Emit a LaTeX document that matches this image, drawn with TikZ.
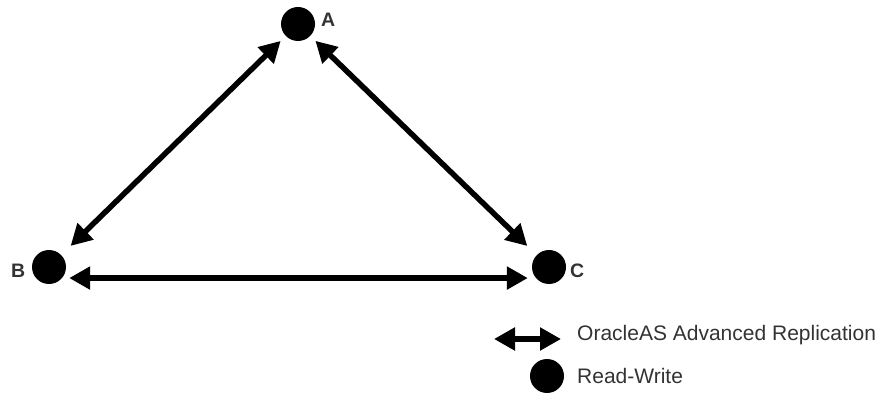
\documentclass[tikz,border=0pt]{standalone}
\usepackage{fontspec}
\setmainfont{Liberation Sans}
\usetikzlibrary{arrows.meta,positioning}
\definecolor{rwtext}{HTML}{333333}

\begin{document}
\begin{tikzpicture}[
  x=1pt, y=-1pt,
  site/.style={circle, fill=black, inner sep=0pt, minimum size=34pt},
  tag/.style={anchor=base west, inner sep=0pt, font=\fontsize{19.5}{22}\selectfont\bfseries, text=rwtext},
  legtext/.style={anchor=base west, inner sep=0pt, font=\fontsize{21}{24}\selectfont, text=rwtext},
  repl/.style={{Triangle[length=21pt,width=22pt]}-{Triangle[length=21pt,width=22pt]}, line width=5.5pt, black},
]
\useasboundingbox (0,0) rectangle (884,395);

\node[site] (siteA) at (298,24) {};
\node[site] (siteB) at (49,267) {};
\node[site] (siteC) at (549,267) {};

\node[tag] (labA) at (321,27) {A};
\node[tag] (labB) at (11,278) {B};
\node[tag] (labC) at (570,278) {C};

\draw[repl, shorten <=7pt, shorten >=13pt] (siteA) -- (siteB);
\draw[repl, shorten <=7pt, shorten >=13pt] (siteA) -- (siteC);
\draw[repl, shorten <=7pt, shorten >=8pt] (siteB.-40) -- (siteC.220);

% legend
\coordinate (legL) at (494,339);
\coordinate (legR) at (561,339);
\draw[repl] (legL) -- (legR);
\node[legtext] (legRepl) at (577,341) {OracleAS Advanced Replication};
\node[site] (legSite) at (547,376) {};
\node[legtext] (legRW) at (577,384) {Read-Write};
\end{tikzpicture}
\end{document}
